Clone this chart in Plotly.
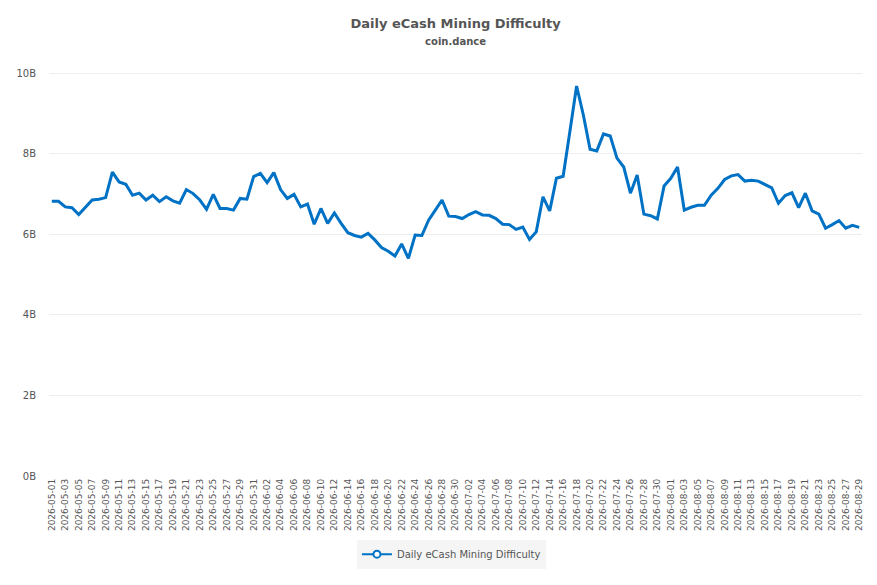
import pandas as pd
import plotly.graph_objects as go

# daily eCash mining difficulty, billions
start_date = '2026-05-01'
difficulty = [
    6.82, 6.82, 6.68, 6.66, 6.49, 6.66, 6.85, 6.87, 6.91, 7.54,
    7.30, 7.24, 6.97, 7.02, 6.85, 6.97, 6.81, 6.93, 6.83, 6.77,
    7.11, 7.01, 6.85, 6.62, 6.99, 6.64, 6.64, 6.60, 6.89, 6.87,
    7.43, 7.51, 7.28, 7.53, 7.11, 6.89, 6.99, 6.68, 6.75, 6.25,
    6.64, 6.27, 6.53, 6.27, 6.04, 5.97, 5.93, 6.02, 5.86, 5.67,
    5.58, 5.46, 5.76, 5.40, 5.98, 5.97, 6.35, 6.60, 6.85, 6.45,
    6.44, 6.39, 6.49, 6.56, 6.48, 6.47, 6.39, 6.25, 6.24, 6.12,
    6.18, 5.87, 6.06, 6.93, 6.58, 7.39, 7.44, 8.55, 9.68, 8.96,
    8.11, 8.07, 8.49, 8.44, 7.89, 7.67, 7.02, 7.47, 6.50, 6.46,
    6.38, 7.20, 7.39, 7.67, 6.60, 6.67, 6.72, 6.72, 6.97, 7.14,
    7.36, 7.45, 7.48, 7.32, 7.34, 7.32, 7.24, 7.15, 6.77, 6.96,
    7.03, 6.66, 7.02, 6.58, 6.50, 6.15, 6.24, 6.34, 6.15, 6.22,
    6.17,
]
dates = pd.date_range(start_date, periods=len(difficulty), freq='D')

y_ticks = [0, 2, 4, 6, 8, 10]

blue = 'rgb(0,114,198)'
grey = '#555555'

fig = go.Figure()

fig.add_trace(go.Scatter(
    x=dates, y=difficulty,
    mode='lines',
    line=dict(color=blue, width=3),
    showlegend=False,
    hovertemplate='%{x|%Y-%m-%d}: %{y:.2f}B<extra></extra>',
))

# legend entry only (line with hollow marker, like the original)
fig.add_trace(go.Scatter(
    x=[None], y=[None],
    mode='lines+markers',
    name='Daily eCash Mining Difficulty',
    line=dict(color=blue, width=2),
    marker=dict(symbol='circle', size=7, color='white', line=dict(color=blue, width=2)),
))

# page body has an 8px margin, so the figure is a bit smaller than the window
fig.update_layout(
    width=869, height=577,
    paper_bgcolor='white', plot_bgcolor='white',
    font=dict(family='DejaVu Sans', size=10, color=grey),
    title=dict(
        text='<b>Daily eCash Mining Difficulty</b><br><span style="font-size:10px"><b>coin.dance</b></span>',
        x=0.515, xanchor='center', y=0.966, yanchor='top',
        font=dict(size=13, color=grey),
    ),
    margin=dict(l=41, r=15, t=49, b=109, autoexpand=False),
    legend=dict(
        orientation='h', x=0.495, xanchor='center', y=-0.152, yanchor='top',
        bgcolor='#f5f5f5', font=dict(size=10, color=grey),
        itemwidth=30,
    ),
    showlegend=True,
)

fig.update_xaxes(
    type='date', automargin=False,
    range=[dates[0] - pd.Timedelta(hours=10), dates[-1] + pd.Timedelta(hours=10)],
    tick0=start_date, dtick=2 * 86400000,
    tickformat='%Y-%m-%d', tickangle=-90,
    showgrid=False, showline=False, zeroline=False,
    tickfont=dict(size=9, color=grey),
)

fig.update_yaxes(
    range=[0, 10.4], automargin=False,
    tickvals=y_ticks, ticktext=[f'{v}B' for v in y_ticks],
    showgrid=True, gridcolor='#eeeeee', gridwidth=1,
    zeroline=False, showline=False,
    tickfont=dict(size=10, color=grey),
    ticks='', ticklabelstandoff=12,
)

fig.write_html("out.html")
